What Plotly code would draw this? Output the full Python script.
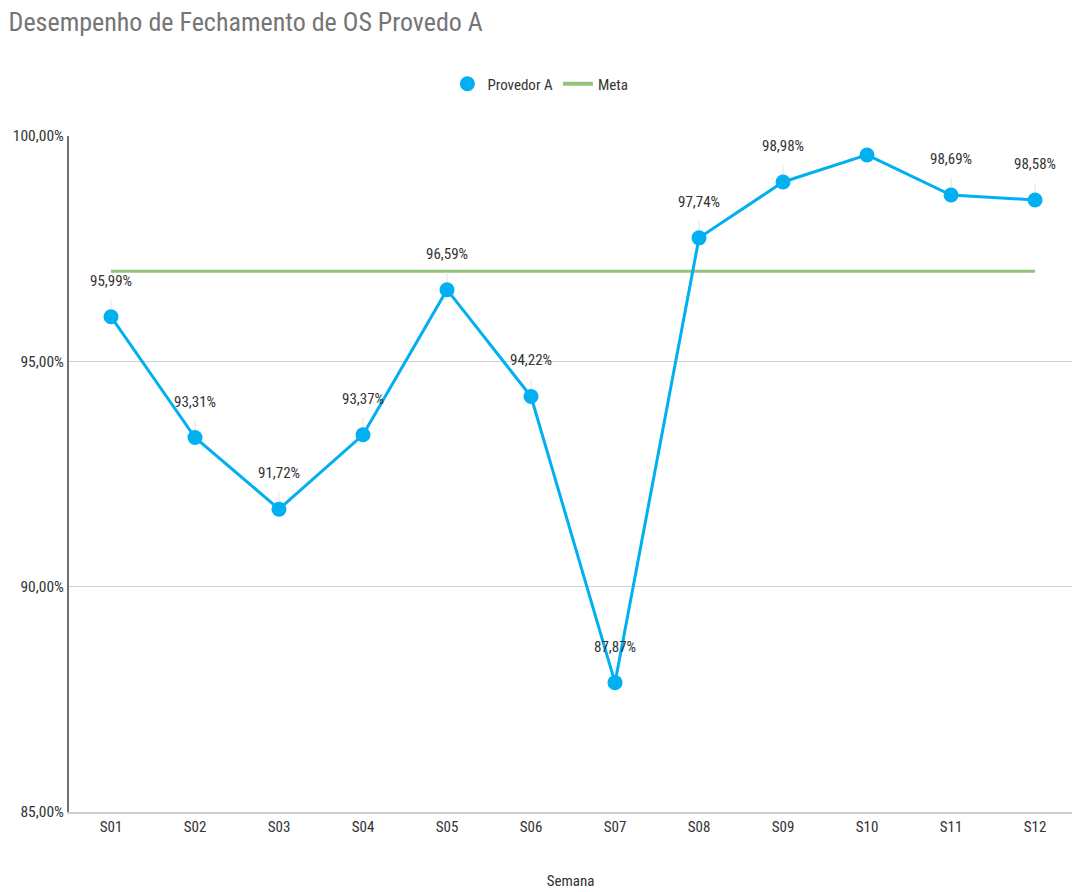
import plotly.graph_objects as go

semanas = ["S01", "S02", "S03", "S04", "S05", "S06", "S07", "S08", "S09", "S10", "S11", "S12"]
provedor_a = [95.99, 93.31, 91.72, 93.37, 96.59, 94.22, 87.87, 97.74, 98.98, 99.58, 98.69, 98.58]
mostrar_rotulo = [True, True, True, True, True, True, True, True, True, False, True, True]
meta = [97.0] * 12
y_ticks = [85, 90, 95, 100]
y_tick_labels = ["85,00%", "90,00%", "95,00%", "100,00%"]

FONT = "Liberation Sans Narrow, Arial Narrow, Roboto Condensed, Liberation Sans, Arial, sans-serif"
BLUE = "#00b0f0"
GREEN = "#93c47d"

fig = go.Figure()

fig.add_trace(go.Scatter(
    x=semanas, y=meta, mode="lines", name="Meta",
    line=dict(color=GREEN, width=3), showlegend=False, hoverinfo="skip",
))

fig.add_trace(go.Scatter(
    x=semanas, y=provedor_a, mode="lines+markers", name="Provedor A",
    line=dict(color=BLUE, width=3),
    marker=dict(color=BLUE, size=15),
    error_y=dict(type="data", symmetric=False,
                 array=[0.38 if s else 0 for s in mostrar_rotulo],
                 arrayminus=[0] * len(provedor_a),
                 color="#e3e3e3", thickness=1, width=0),
    showlegend=False, legendgroup="a",
))

# legend-only entries
fig.add_trace(go.Scatter(x=[None], y=[None], mode="markers", name="Provedor A",
                         marker=dict(color=BLUE, size=15), legendgroup="a"))
fig.add_trace(go.Scatter(x=[None], y=[None], mode="lines", name="Meta",
                         line=dict(color=GREEN, width=4)))

for s, v, show in zip(semanas, provedor_a, mostrar_rotulo):
    if not show:
        continue
    fig.add_annotation(x=s, y=v, text=f"{v:.2f}%".replace(".", ","),
                       showarrow=False, yshift=36,
                       font=dict(family=FONT, size=15, color="#333333"))

fig.update_layout(
    width=1072, height=892,
    margin=dict(l=69, r=0, t=136, b=80),
    paper_bgcolor="white", plot_bgcolor="white",
    separators=",.",
    font=dict(family=FONT, size=14, color="#444444"),
    title=dict(text="Desempenho de Fechamento de OS Provedo A",
               x=0.008, xanchor="left", y=1 - 22 / 892, yanchor="middle",
               font=dict(family=FONT, size=26, color="#757575")),
    legend=dict(orientation="h", x=0.47, xanchor="center", y=1.077, yanchor="middle",
                font=dict(family=FONT, size=15, color="#333333"),
                itemwidth=30),
    xaxis=dict(
        type="category", categoryorder="array", categoryarray=semanas,
        range=[-0.5, 11.44],
        showgrid=False, showline=True, linecolor="#d0d0d0", linewidth=2,
        ticks="", tickfont=dict(size=15, color="#333333"),
        title=dict(text="Semana", font=dict(size=15, color="#333333"), standoff=40),
    ),
    yaxis=dict(
        range=[85, 100], tickvals=y_ticks, ticktext=y_tick_labels,
        showgrid=True, gridcolor="#d0d0d0", gridwidth=1,
        showline=True, linecolor="#707070", linewidth=2,
        zeroline=False, ticks="", tickfont=dict(size=15.5, color="#333333"),
    ),
)

fig.write_html("out.html")
